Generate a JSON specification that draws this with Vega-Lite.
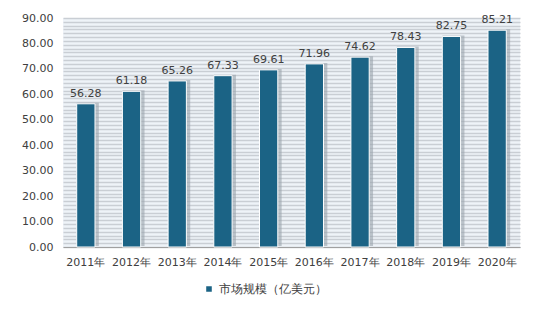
{
  "$schema": "https://vega.github.io/schema/vega-lite/v6.json",
  "width": 457,
  "height": 229,
  "autosize": {"type": "none"},
  "padding": {"left": 63, "top": 18, "right": 25, "bottom": 72},
  "background": "white",
  "config": {
    "font": "DejaVu Sans",
    "view": {"stroke": null, "fill": "#eef3f8"},
    "axis": {"labelFont": "DejaVu Sans", "labelFontSize": 11, "labelColor": "#404040"}
  },
  "data": {
    "values": [
      {"year": "2011年", "value": 56.28, "series": "市场规模（亿美元）"},
      {"year": "2012年", "value": 61.18, "series": "市场规模（亿美元）"},
      {"year": "2013年", "value": 65.26, "series": "市场规模（亿美元）"},
      {"year": "2014年", "value": 67.33, "series": "市场规模（亿美元）"},
      {"year": "2015年", "value": 69.61, "series": "市场规模（亿美元）"},
      {"year": "2016年", "value": 71.96, "series": "市场规模（亿美元）"},
      {"year": "2017年", "value": 74.62, "series": "市场规模（亿美元）"},
      {"year": "2018年", "value": 78.43, "series": "市场规模（亿美元）"},
      {"year": "2019年", "value": 82.75, "series": "市场规模（亿美元）"},
      {"year": "2020年", "value": 85.21, "series": "市场规模（亿美元）"}
    ]
  },
  "encoding": {
    "x": {
      "field": "year", "type": "nominal", "sort": null,
      "scale": {"paddingInner": 0.6, "paddingOuter": 0.3},
      "axis": {"title": null, "labelAngle": 0, "ticks": false, "domainColor": "#a0a0a0", "labelPadding": 9}
    }
  },
  "resolve": {"scale": {"y": "independent"}, "axis": {"y": "independent"}},
  "layer": [
    {
      "mark": {"type": "rule", "opacity": 0},
      "encoding": {
        "y": {
          "field": "value", "type": "quantitative",
          "scale": {"domain": [0, 60], "nice": false},
          "axis": {"title": null, "orient": "right", "labels": false, "ticks": false, "domain": false, "grid": true, "gridColor": "#c9ced4", "gridWidth": 1.3,
            "values": [0,1,2,3,4,5,6,7,8,9,10,11,12,13,14,15,16,17,18,19,20,21,22,23,24,25,26,27,28,29,30,31,32,33,34,35,36,37,38,39,40,41,42,43,44,45,46,47,48,49,50,51,52,53,54,55,56,57,58,59,60]}
        }
      }
    },
    {
      "encoding": {
        "y": {
          "field": "value", "type": "quantitative",
          "scale": {"domain": [0, 90], "nice": false},
          "axis": {"title": null, "orient": "left", "values": [0,10,20,30,40,50,60,70,80,90], "format": ".2f", "grid": false, "ticks": false, "domain": false, "labelPadding": 10}
        }
      },
      "layer": [
        {
          "mark": {"type": "bar", "color": "#9aa3ab", "opacity": 0.6, "xOffset": 2, "yOffset": -1, "width": 22},
          "encoding": {}
        },
        {
          "mark": {"type": "bar", "color": "#1b6385", "stroke": "white", "strokeWidth": 1},
          "encoding": {
            "color": {
              "field": "series", "type": "nominal",
              "scale": {"range": ["#1b6385"]},
              "legend": {"title": null, "orient": "none", "legendX": 140, "legendY": 265, "symbolType": "square", "symbolSize": 50, "labelFontSize": 12, "labelColor": "#404040", "labelFont": "DejaVu Sans"}
            }
          }
        },
        {
          "mark": {"type": "text", "dy": -10, "fontSize": 11, "color": "#404040"},
          "encoding": {"text": {"field": "value", "type": "quantitative", "format": ".2f"}}
        }
      ]
    }
  ]
}
